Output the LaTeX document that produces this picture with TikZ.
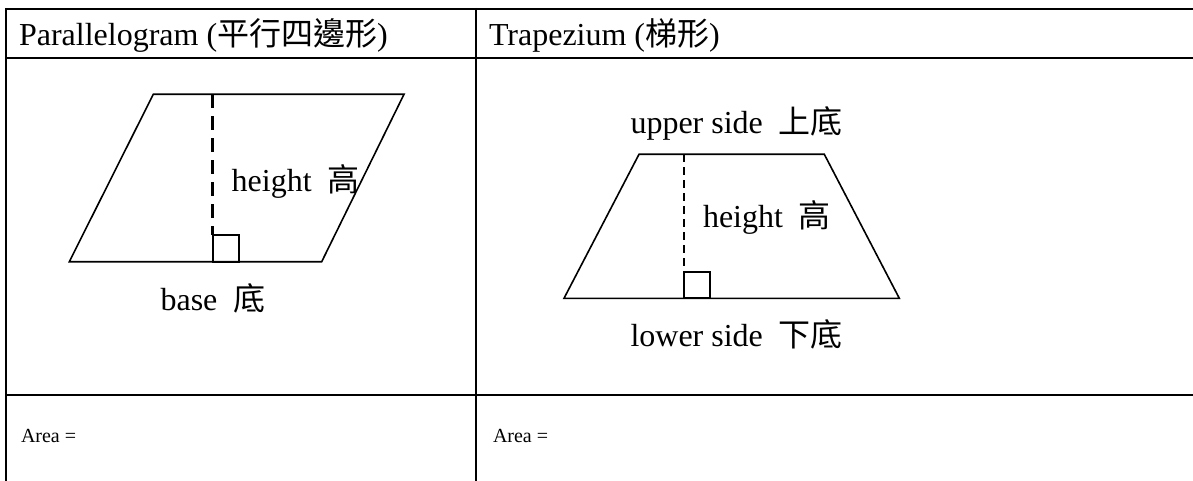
\documentclass[tikz,border=0pt]{standalone}
\usepackage{fontspec}
\setmainfont{Liberation Serif}
\newfontfamily\cjk{Noto Sans CJK TC}

\begin{document}
\begin{tikzpicture}[x=1pt,y=-1pt,
  rule/.style={draw=black,line width=2pt},
  edge/.style={draw=black,line width=1.6pt,line join=miter},
  rightangle/.style={draw=black,line width=2pt},
  thickdash/.style={draw=black,line width=3pt,dash pattern=on 14pt off 8pt},
  thindash/.style={draw=black,line width=1.5pt,dash pattern=on 8pt off 5pt},
  head/.style={inner sep=0pt,outer sep=0pt,anchor=base west,font=\fontsize{32}{38}\selectfont},
  lbl/.style={inner sep=0pt,outer sep=0pt,anchor=base,font=\fontsize{32}{38}\selectfont},
  area/.style={inner sep=0pt,outer sep=0pt,anchor=base west,font=\fontsize{20}{24}\selectfont}]
\path[use as bounding box] (0,0) rectangle (1193,481);
\path[fill=white,draw=none] (0,0) rectangle (1193,481);
% table
\draw[rule] (6,9) -- (1193,9);
\draw[rule] (6,58) -- (1193,58);
\draw[rule] (6,395) -- (1193,395);
\draw[rule] (6,8) -- (6,481);
\draw[rule,line width=1.5pt] (476,8) -- (476,481);
\node[head] (hpar) at (19,46) {Parallelogram ({\cjk 平行四邊形})};
\node[head] (htrap) at (489,46) {Trapezium ({\cjk 梯形})};
% parallelogram
\coordinate (p1) at (69.3,261.7);
\coordinate (p2) at (321.7,261.7);
\coordinate (p3) at (404,94.3);
\coordinate (p4) at (153.3,94.3);
\coordinate (pfoot) at (212.7,261.7);
\coordinate (ptop) at (212.7,94.3);
\coordinate (pbox) at (212.7,235);
\draw[edge] (p1) -- (p2) -- (p3) -- (p4) -- cycle;
\draw[thickdash] (ptop) -- (pbox);
\draw[rightangle] (pfoot) rectangle (239,235);
\node[lbl,anchor=base west] (pheight) at (231.7,192) {height~ {\cjk 高}};
\node[lbl] (pbase) at (213,310) {base~ {\cjk 底}};
% trapezium
\coordinate (t1) at (564,298.3);
\coordinate (t2) at (899.3,298.3);
\coordinate (t3) at (824.3,154.3);
\coordinate (t4) at (639,154.3);
\coordinate (tfoot) at (684,298.3);
\coordinate (ttop) at (684,154.3);
\coordinate (tbox) at (684,271.7);
\draw[edge] (t1) -- (t2) -- (t3) -- (t4) -- cycle;
\draw[thindash] (ttop) -- (tbox);
\draw[rightangle] (tfoot) rectangle (710.3,271.7);
\node[lbl] (tupper) at (736.7,134) {upper side~ {\cjk 上底}};
\node[lbl,anchor=base west] (theight) at (703,227) {height~ {\cjk 高}};
\node[lbl] (tlower) at (736.7,346) {lower side~ {\cjk 下底}};
% area row
\node[area] (apar) at (21,442) {Area =};
\node[area] (atrap) at (493,442) {Area =};
\end{tikzpicture}
\end{document}
